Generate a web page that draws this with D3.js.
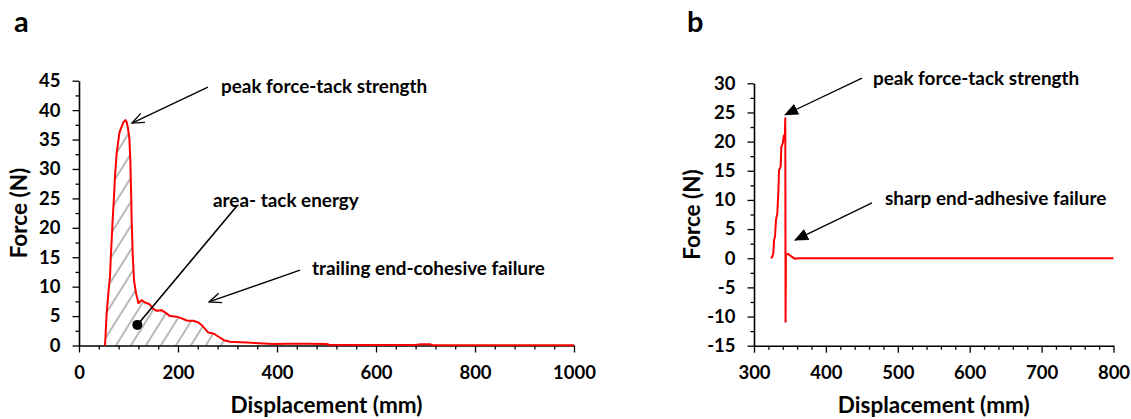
<!DOCTYPE html>
<html>
<head>
<meta charset="utf-8">
<script src="https://cdn.jsdelivr.net/npm/d3@7"></script>
<style>
  html, body { margin: 0; padding: 0; background: #fff; }
  svg { display: block; font-family: Lato, "Open Sans", sans-serif; font-weight: bold; }
</style>
</head>
<body>
<svg id="chart" width="1131" height="419"></svg>
<script>
// ---- Panel a: probe tack test, cohesive failure ----
const dispA = [52.5, 53.9, 55.9, 59.3, 62.6, 64, 66, 68, 70.7, 72.7, 76.1, 81.5, 84.8, 89.6, 93.6, 96.3, 99, 101.7,
  103.7, 105, 106.4, 108.4, 111.1, 115.2, 119.9, 126.6, 133.3, 142.1, 148.8, 156.9, 167, 175.8, 183.8, 197.3, 207.4,
  218.9, 231, 241.1, 249.8, 261.3, 272.7, 283.5, 293, 305, 338.7, 392.6, 420, 460, 500, 505, 600, 680, 690, 710, 715, 1000];
const forceA = [0, 2.1, 5.5, 8.9, 11.7, 14.5, 17.9, 21.3, 25.3, 28.7, 32.7, 36.1, 36.9, 37.9, 38.3, 38.0, 36.9, 35.2,
  31.5, 27, 21.3, 15.7, 11.1, 8.9, 7.2, 7.7, 7.3, 7.05, 6.3, 5.9, 6.0, 5.5, 5.0, 4.9, 4.6,
  4.2, 4.2, 3.9, 3.3, 2.2, 2.0, 1.4, 0.9, 0.65, 0.5, 0.25, 0.3, 0.3, 0.25, 0.12, 0.1, 0.1, 0.2, 0.2, 0.05, 0.05];
const hatchEndA = 300;           // displacement where the shaded tack-energy area stops
const xTicksA = [0, 200, 400, 600, 800, 1000];
const yTicksA = [0, 5, 10, 15, 20, 25, 30, 35, 40, 45];

// ---- Panel b: probe tack test, adhesive failure ----
const dispB = [323.6, 325.5, 326.9, 327.8, 329.2, 330.6, 332.4, 333.8, 334.8, 337.1, 338, 339.9, 341.7, 342.7, 343.5,
  343.9, 344.4, 347.7, 352.4, 357, 361.6, 800];
const forceB = [0, 0.27, 0.86, 3.1, 3.7, 6.6, 7.7, 11.1, 15.1, 15.7, 19.1, 19.7, 21.1, 20.3, 24.0,
  -10.9, 0.6, 0.74, 0.27, -0.1, 0, 0];
const xTicksB = [300, 400, 500, 600, 700, 800];
const yTicksB = [-15, -10, -5, 0, 5, 10, 15, 20, 25, 30];

const svg = d3.select("#chart");
const defs = svg.append("defs");

// open arrow head (panel a) and filled arrow head (panel b)
defs.append("marker").attr("id", "openHead").attr("viewBox", "0 0 14 12")
  .attr("refX", 13).attr("refY", 6).attr("markerWidth", 14).attr("markerHeight", 12)
  .attr("markerUnits", "userSpaceOnUse").attr("orient", "auto")
  .append("path").attr("d", "M1,1 L13,6 L1,11").attr("fill", "none")
  .attr("stroke", "#000").attr("stroke-width", 1.3);
defs.append("marker").attr("id", "solidHead").attr("viewBox", "0 0 14 12")
  .attr("refX", 13).attr("refY", 6).attr("markerWidth", 14).attr("markerHeight", 12)
  .attr("markerUnits", "userSpaceOnUse").attr("orient", "auto")
  .append("path").attr("d", "M0,0 L14,6 L0,12 Z").attr("fill", "#000");

// diagonal hatching for the tack-energy area
const hatch = defs.append("pattern").attr("id", "hatch").attr("patternUnits", "userSpaceOnUse")
  .attr("width", 12.7).attr("height", 20).attr("patternTransform", "rotate(32)");
hatch.append("line").attr("x1", 2).attr("y1", 0).attr("x2", 2).attr("y2", 20)
  .attr("stroke", "#808080").attr("stroke-width", 1.1);

function drawAxes(g, x, y, xTicks, yTicks, xMinorStep, yMinorStep) {
  const [x0, x1] = x.domain(), [y0, y1] = y.domain();
  const xMinor = d3.range(x0, x1 + 1e-9, xMinorStep).filter(v => !xTicks.includes(v));
  const yMinor = d3.range(y0, y1 + 1e-9, yMinorStep).filter(v => !yTicks.includes(v));
  const fmt = d => String(d);

  const gxMinor = g.append("g").attr("transform", `translate(0,${y.range()[0]})`)
    .call(d3.axisBottom(x).tickValues(xMinor).tickSize(4).tickFormat(""));
  const gx = g.append("g").attr("transform", `translate(0,${y.range()[0]})`)
    .call(d3.axisBottom(x).tickValues(xTicks).tickSize(7).tickSizeOuter(0).tickPadding(13).tickFormat(fmt));
  const gyMinor = g.append("g").attr("transform", `translate(${x.range()[0]},0)`)
    .call(d3.axisLeft(y).tickValues(yMinor).tickSize(3.5).tickFormat(""));
  const gy = g.append("g").attr("transform", `translate(${x.range()[0]},0)`)
    .call(d3.axisLeft(y).tickValues(yTicks).tickSize(6.5).tickSizeOuter(0).tickPadding(12).tickFormat(fmt));

  [gxMinor, gx, gyMinor, gy].forEach(a => {
    a.selectAll(".domain").attr("stroke", "#000").attr("stroke-width", 1.6);
    a.selectAll(".tick line").attr("stroke", "#000").attr("stroke-width", 1.3);
    a.selectAll("text").attr("font-family", "Lato, sans-serif").attr("font-weight", "bold")
      .attr("font-size", 18.5).attr("fill", "#000");
  });
  gxMinor.select(".domain").remove();
  gyMinor.select(".domain").remove();
}

function label(g, text, px, py, size) {
  return g.append("text").attr("x", px).attr("y", py).attr("font-size", size)
    .attr("font-weight", "bold").attr("fill", "#000").text(text);
}

// ================= Panel a =================
const xA = d3.scaleLinear([0, 1000], [79, 574]);
const yA = d3.scaleLinear([0, 45], [345.5, 80.7]);
const gA = svg.append("g");
const ptsA = dispA.map((d, i) => [d, forceA[i]]);

// shaded tack-energy area under the curve
const areaA = d3.area().x(d => xA(d[0])).y0(yA(0)).y1(d => yA(d[1]));
gA.append("path").datum(ptsA.filter(d => d[0] <= hatchEndA))
  .attr("d", areaA).attr("fill", "url(#hatch)");

drawAxes(gA, xA, yA, xTicksA, yTicksA, 40, 2.5);

gA.append("path").datum(ptsA)
  .attr("d", d3.line().x(d => xA(d[0])).y(d => yA(d[1])))
  .attr("fill", "none").attr("stroke", "#ff0000").attr("stroke-width", 2).attr("stroke-linejoin", "round");

// annotations
gA.append("line").attr("x1", xA(260.6)).attr("y1", yA(43.9)).attr("x2", xA(107)).attr("y2", yA(37.8))
  .attr("stroke", "#000").attr("stroke-width", 1.3).attr("marker-end", "url(#openHead)");
gA.append("line").attr("x1", xA(319)).attr("y1", yA(23.7)).attr("x2", xA(117.8)).attr("y2", yA(3.5))
  .attr("stroke", "#000").attr("stroke-width", 1.6);
gA.append("circle").attr("cx", xA(117.8)).attr("cy", yA(3.5)).attr("r", 5).attr("fill", "#000");
gA.append("line").attr("x1", xA(446.5)).attr("y1", yA(12.8)).attr("x2", xA(262.6)).attr("y2", yA(7.4))
  .attr("stroke", "#000").attr("stroke-width", 1.3).attr("marker-end", "url(#openHead)");

label(gA, "peak force-tack strength", 221, 93, 18.9);
label(gA, "area- tack energy", 213, 207, 18.9);
label(gA, "trailing end-cohesive failure", 312, 275, 18.9);

label(gA, "a", 14, 32, 29);
label(gA, "Displacement (mm)", (xA.range()[0] + xA.range()[1]) / 2, 413, 22.5).attr("text-anchor", "middle");
gA.append("text").attr("transform", `translate(27,${(yA.range()[0] + yA.range()[1]) / 2}) rotate(-90)`)
  .attr("text-anchor", "middle").attr("font-size", 22.5).attr("font-weight", "bold").text("Force (N)");

// ================= Panel b =================
const xB = d3.scaleLinear([300, 800], [754, 1113.5]);
const yB = d3.scaleLinear([-15, 30], [345.7, 83.3]);
const gB = svg.append("g");

drawAxes(gB, xB, yB, xTicksB, yTicksB, 20, 2.5);

gB.append("path").datum(dispB.map((d, i) => [d, forceB[i]]))
  .attr("d", d3.line().x(d => xB(d[0])).y(d => yB(d[1])))
  .attr("fill", "none").attr("stroke", "#ff0000").attr("stroke-width", 2).attr("stroke-linejoin", "round");

gB.append("line").attr("x1", xB(450.2)).attr("y1", yB(30.9)).attr("x2", xB(343.1)).attr("y2", yB(24.6))
  .attr("stroke", "#000").attr("stroke-width", 1.3).attr("marker-end", "url(#solidHead)");
gB.append("line").attr("x1", xB(464.1)).attr("y1", yB(9.5)).attr("x2", xB(357)).attr("y2", yB(3.1))
  .attr("stroke", "#000").attr("stroke-width", 1.3).attr("marker-end", "url(#solidHead)");

label(gB, "peak force-tack strength", 873, 85, 18.9);
label(gB, "sharp end-adhesive failure", 885, 205, 18.9);

label(gB, "b", 687, 32, 29);
label(gB, "Displacement (mm)", (xB.range()[0] + xB.range()[1]) / 2, 413, 22.5).attr("text-anchor", "middle");
gB.append("text").attr("transform", `translate(700,${(yB.range()[0] + yB.range()[1]) / 2}) rotate(-90)`)
  .attr("text-anchor", "middle").attr("font-size", 22.5).attr("font-weight", "bold").text("Force (N)");
</script>
</body>
</html>
